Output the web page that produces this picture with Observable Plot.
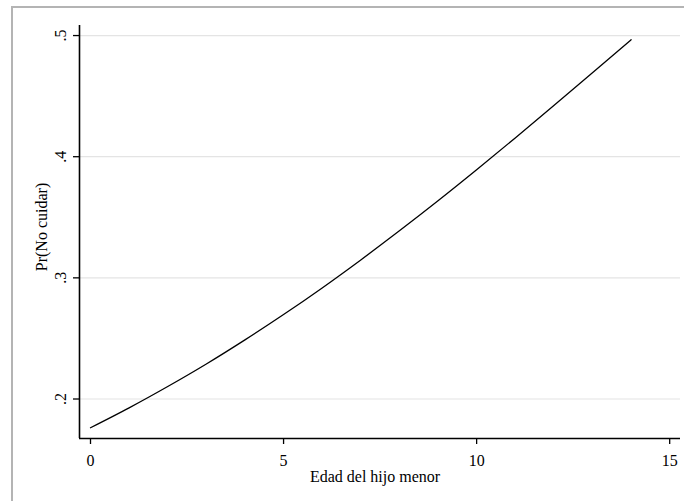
<!DOCTYPE html>
<html>
<head>
<meta charset="utf-8">
<script src="https://cdn.jsdelivr.net/npm/d3@7"></script>
<script src="https://cdn.jsdelivr.net/npm/@observablehq/plot@0.6"></script>
<style>
  html, body { margin: 0; padding: 0; background: #fff; }
  #wrap { position: relative; width: 684px; height: 501px; overflow: hidden; background: #fff; }
  #frame { position: absolute; left: 11px; top: 6px; width: 690px; height: 520px; border: 2px solid #b4b4b4; box-sizing: border-box; }
  #chart { position: absolute; left: 0; top: 0; }
</style>
</head>
<body>
<div id="wrap"><div id="frame"></div><div id="chart"></div></div>
<script>
// Data
const edad = [0, 1, 2, 3, 4, 5, 6, 7, 8, 9, 10, 11, 12, 13, 14];
const prNoCuidar = [0.1763, 0.1927, 0.2103, 0.2289, 0.2488, 0.2697, 0.2917, 0.3148, 0.3388, 0.3636, 0.3892, 0.4155, 0.4422, 0.4692, 0.4965];
const xTicks = [0, 5, 10, 15];
const yTicks = [0.2, 0.3, 0.4, 0.5];
const yTickLabels = [".2", ".3", ".4", ".5"];
const xTitle = "Edad del hijo menor";
const yTitle = "Pr(No cuidar)";

const xDomain = [-0.285, 15.28];
const yDomain = [0.1674, 0.5083];

const data = edad.map((x, i) => ({x, y: prNoCuidar[i]}));
const yLab = yTicks.map((v, i) => ({v, t: yTickLabels[i]}));
const font = "Liberation Serif, Times New Roman, serif";

const chart = Plot.plot({
  width: 684,
  height: 501,
  marginLeft: 79,
  marginRight: 4,
  marginTop: 25,
  marginBottom: 63,
  style: {fontFamily: font, fontSize: "16px", color: "#000", background: "transparent"},
  x: {domain: xDomain},
  y: {domain: yDomain},
  marks: [
    Plot.gridY(yTicks, {stroke: "#e4e4e4", strokeOpacity: 1, strokeWidth: 1.2}),
    Plot.axisX(xTicks, {tickSize: 6, tickPadding: 10, tickFormat: d => String(d), label: null, fontSize: 16, strokeWidth: 1.3}),
    Plot.axisY(yTicks, {tickSize: 6, tickFormat: () => "", label: null, strokeWidth: 1.3}),
    Plot.text(yLab, {x: xDomain[0], y: "v", text: "t", rotate: -90, dx: -13.5, lineAnchor: "bottom", textAnchor: "middle", fontSize: 16, fill: "#000"}),
    Plot.ruleX([xDomain[0]], {stroke: "#000", strokeWidth: 1.6}),
    Plot.ruleY([yDomain[0]], {stroke: "#000", strokeWidth: 1.6}),
    Plot.line(data, {x: "x", y: "y", curve: "monotone-x", stroke: "#000", strokeWidth: 1.3}),
    Plot.text([xTitle], {frameAnchor: "bottom", dx: -5, dy: 43.5, lineAnchor: "bottom", textAnchor: "middle", fontSize: 16, fill: "#000"}),
    Plot.text([yTitle], {frameAnchor: "left", dx: -33, dy: -5, rotate: -90, lineAnchor: "bottom", textAnchor: "middle", fontSize: 16, fill: "#000"})
  ]
});
document.getElementById("chart").appendChild(chart);
</script>
</body>
</html>
